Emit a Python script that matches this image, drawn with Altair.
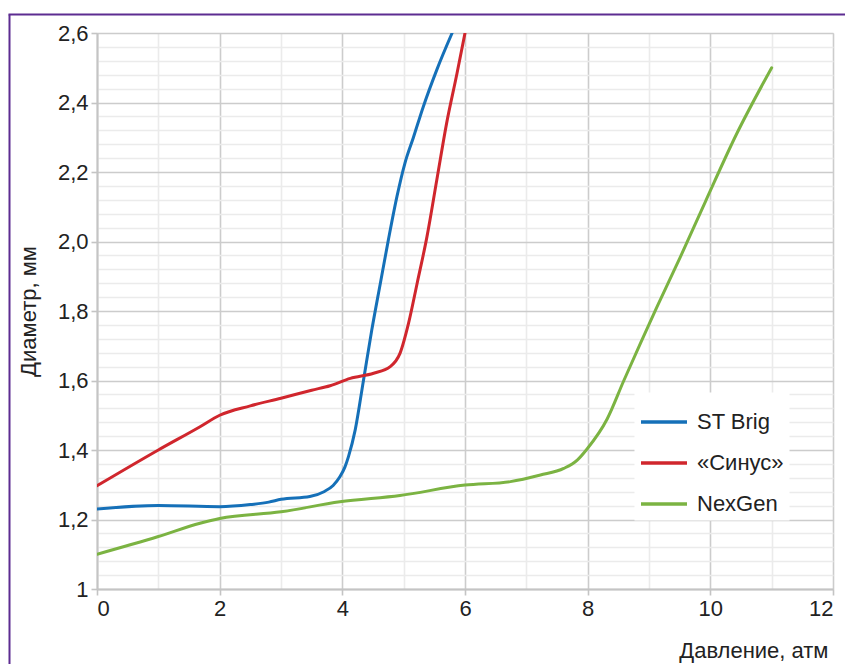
import altair as alt
import pandas as pd

series_names = ["ST Brig", "«Синус»", "NexGen"]
series_colors = ["#1570b8", "#d0262d", "#7bb342"]

st_x = [0, 1, 2, 2.5, 2.8, 3.0, 3.47, 3.7, 3.85, 3.96, 4.04, 4.10, 4.21, 4.345, 4.48, 4.62, 4.75, 4.89, 5.02, 5.16, 5.32, 5.54, 5.79]
st_y = [1.23, 1.24, 1.237, 1.243, 1.25, 1.258, 1.266, 1.28, 1.298, 1.323, 1.35, 1.381, 1.458, 1.601, 1.745, 1.88, 2.004, 2.129, 2.225, 2.30, 2.388, 2.494, 2.60]

sin_x = [0, 1, 1.68, 2, 2.5, 3, 3.5, 3.8, 4.13, 4.51, 4.78, 4.94, 5.08, 5.22, 5.38, 5.54, 5.70, 5.87, 6.0]
sin_y = [1.297, 1.40, 1.467, 1.50, 1.527, 1.549, 1.572, 1.585, 1.606, 1.621, 1.64, 1.678, 1.765, 1.88, 2.014, 2.177, 2.34, 2.484, 2.60]

nex_x = [0, 1, 1.68, 2, 3, 3.96, 4.94, 6.0, 6.74, 7.23, 7.61, 7.83, 7.99, 8.32, 8.59, 8.86, 9.13, 9.51, 9.92, 10.43, 11.0]
nex_y = [1.10, 1.151, 1.189, 1.203, 1.222, 1.251, 1.269, 1.299, 1.309, 1.328, 1.347, 1.371, 1.403, 1.49, 1.60, 1.707, 1.812, 1.955, 2.115, 2.31, 2.50]

x_values = list(range(0, 13))
y_values = [round(1 + 0.04 * i, 2) for i in range(41)]

rows = []
for name, xs, ys in zip(series_names, [st_x, sin_x, nex_x], [st_y, sin_y, nex_y]):
    for i, (a, b) in enumerate(zip(xs, ys)):
        rows.append({"series": name, "p": a, "d": b, "order": i})
df = pd.DataFrame(rows)

FONT = "Liberation Sans"
FS = 22
major_x = "datum.value % 2 == 0"
major_y = "abs(round(datum.value * 5) - datum.value * 5) < 0.001"

x_axis = alt.Axis(
    values=x_values,
    labelExpr=f"{major_x} ? datum.label : ''",
    gridColor=alt.condition(major_x, alt.value("#cccccc"), alt.value("#ebebeb")),
    gridWidth=1.6,
    tickColor=alt.condition(major_x, alt.value("#c4c4c4"), alt.value("transparent")),
    tickSize=6,
    tickWidth=1.6,
    domainColor="#c4c4c4",
    domainWidth=2,
    labelFont=FONT,
    labelFontSize=FS,
    labelColor="#222222",
    labelPadding=3,
    title="Давление, атм",
    titleFont=FONT,
    titleFontSize=FS,
    titleFontWeight="normal",
    titleColor="#222222",
    titleAnchor="end",
    titleAlign="right",
    titleBaseline="middle",
    titleX=731,
    titleY=61,
)

y_axis = alt.Axis(
    values=y_values,
    labelExpr=f"{major_y} ? (datum.value == 1 ? '1' : replace(format(datum.value, '.1f'), '.', ',')) : ''",
    gridColor=alt.condition(major_y, alt.value("#cccccc"), alt.value("#ebebeb")),
    gridWidth=1.6,
    tickColor=alt.condition(major_y, alt.value("#c4c4c4"), alt.value("transparent")),
    tickSize=6,
    tickWidth=1.6,
    domainColor="#c4c4c4",
    domainWidth=2,
    labelFont=FONT,
    labelFontSize=FS,
    labelColor="#222222",
    labelPadding=3,
    title="Диаметр, мм",
    titleFont=FONT,
    titleFontSize=FS,
    titleFontWeight="normal",
    titleColor="#222222",
    titleX=-69,
    titleY=278,
    titleBaseline="middle",
    titleAnchor="middle",
)

lines = alt.Chart(df).mark_line(
    interpolate="monotone", strokeWidth=3, strokeCap="round", clip=True
).encode(
    x=alt.X("p:Q", scale=alt.Scale(domain=[0, 12], nice=False, zero=False), axis=x_axis),
    y=alt.Y("d:Q", scale=alt.Scale(domain=[1, 2.6], nice=False, zero=False), axis=y_axis),
    color=alt.Color(
        "series:N",
        scale=alt.Scale(domain=series_names, range=series_colors),
        sort=series_names,
        legend=alt.Legend(
            title=None,
            orient="none",
            legendX=537,
            legendY=359,
            symbolType="stroke",
            symbolSize=2116,
            symbolStrokeWidth=3.5,
            rowPadding=5,
            labelFont=FONT,
            labelFontSize=FS,
            labelColor="#222222",
            labelOffset=8,
            fillColor="white",
            padding=5,
            strokeColor="transparent",
        ),
    ),
    order="order:Q",
)

frame_data = alt.Data(values=[{"k": 0}])
frame_v = alt.Chart(frame_data).mark_rule(color="#5d2c91", strokeWidth=2).encode(
    x=alt.value(-87.5), y=alt.value(-18.5), y2=alt.value(720)
)
frame_h = alt.Chart(frame_data).mark_rule(color="#5d2c91", strokeWidth=2).encode(
    x=alt.value(-88.5), x2=alt.value(800), y=alt.value(-18.5)
)

chart = alt.layer(lines, frame_v, frame_h).properties(
    width=736,
    height=556,
    autosize=alt.AutoSizeParams(type="none"),
    padding={"left": 89, "top": 25, "right": 12, "bottom": 75},
).configure_view(
    stroke="#c8c8c8", strokeWidth=2
).configure(background="white")

chart.save("out.html", embed_options={"renderer": "svg", "actions": False})
